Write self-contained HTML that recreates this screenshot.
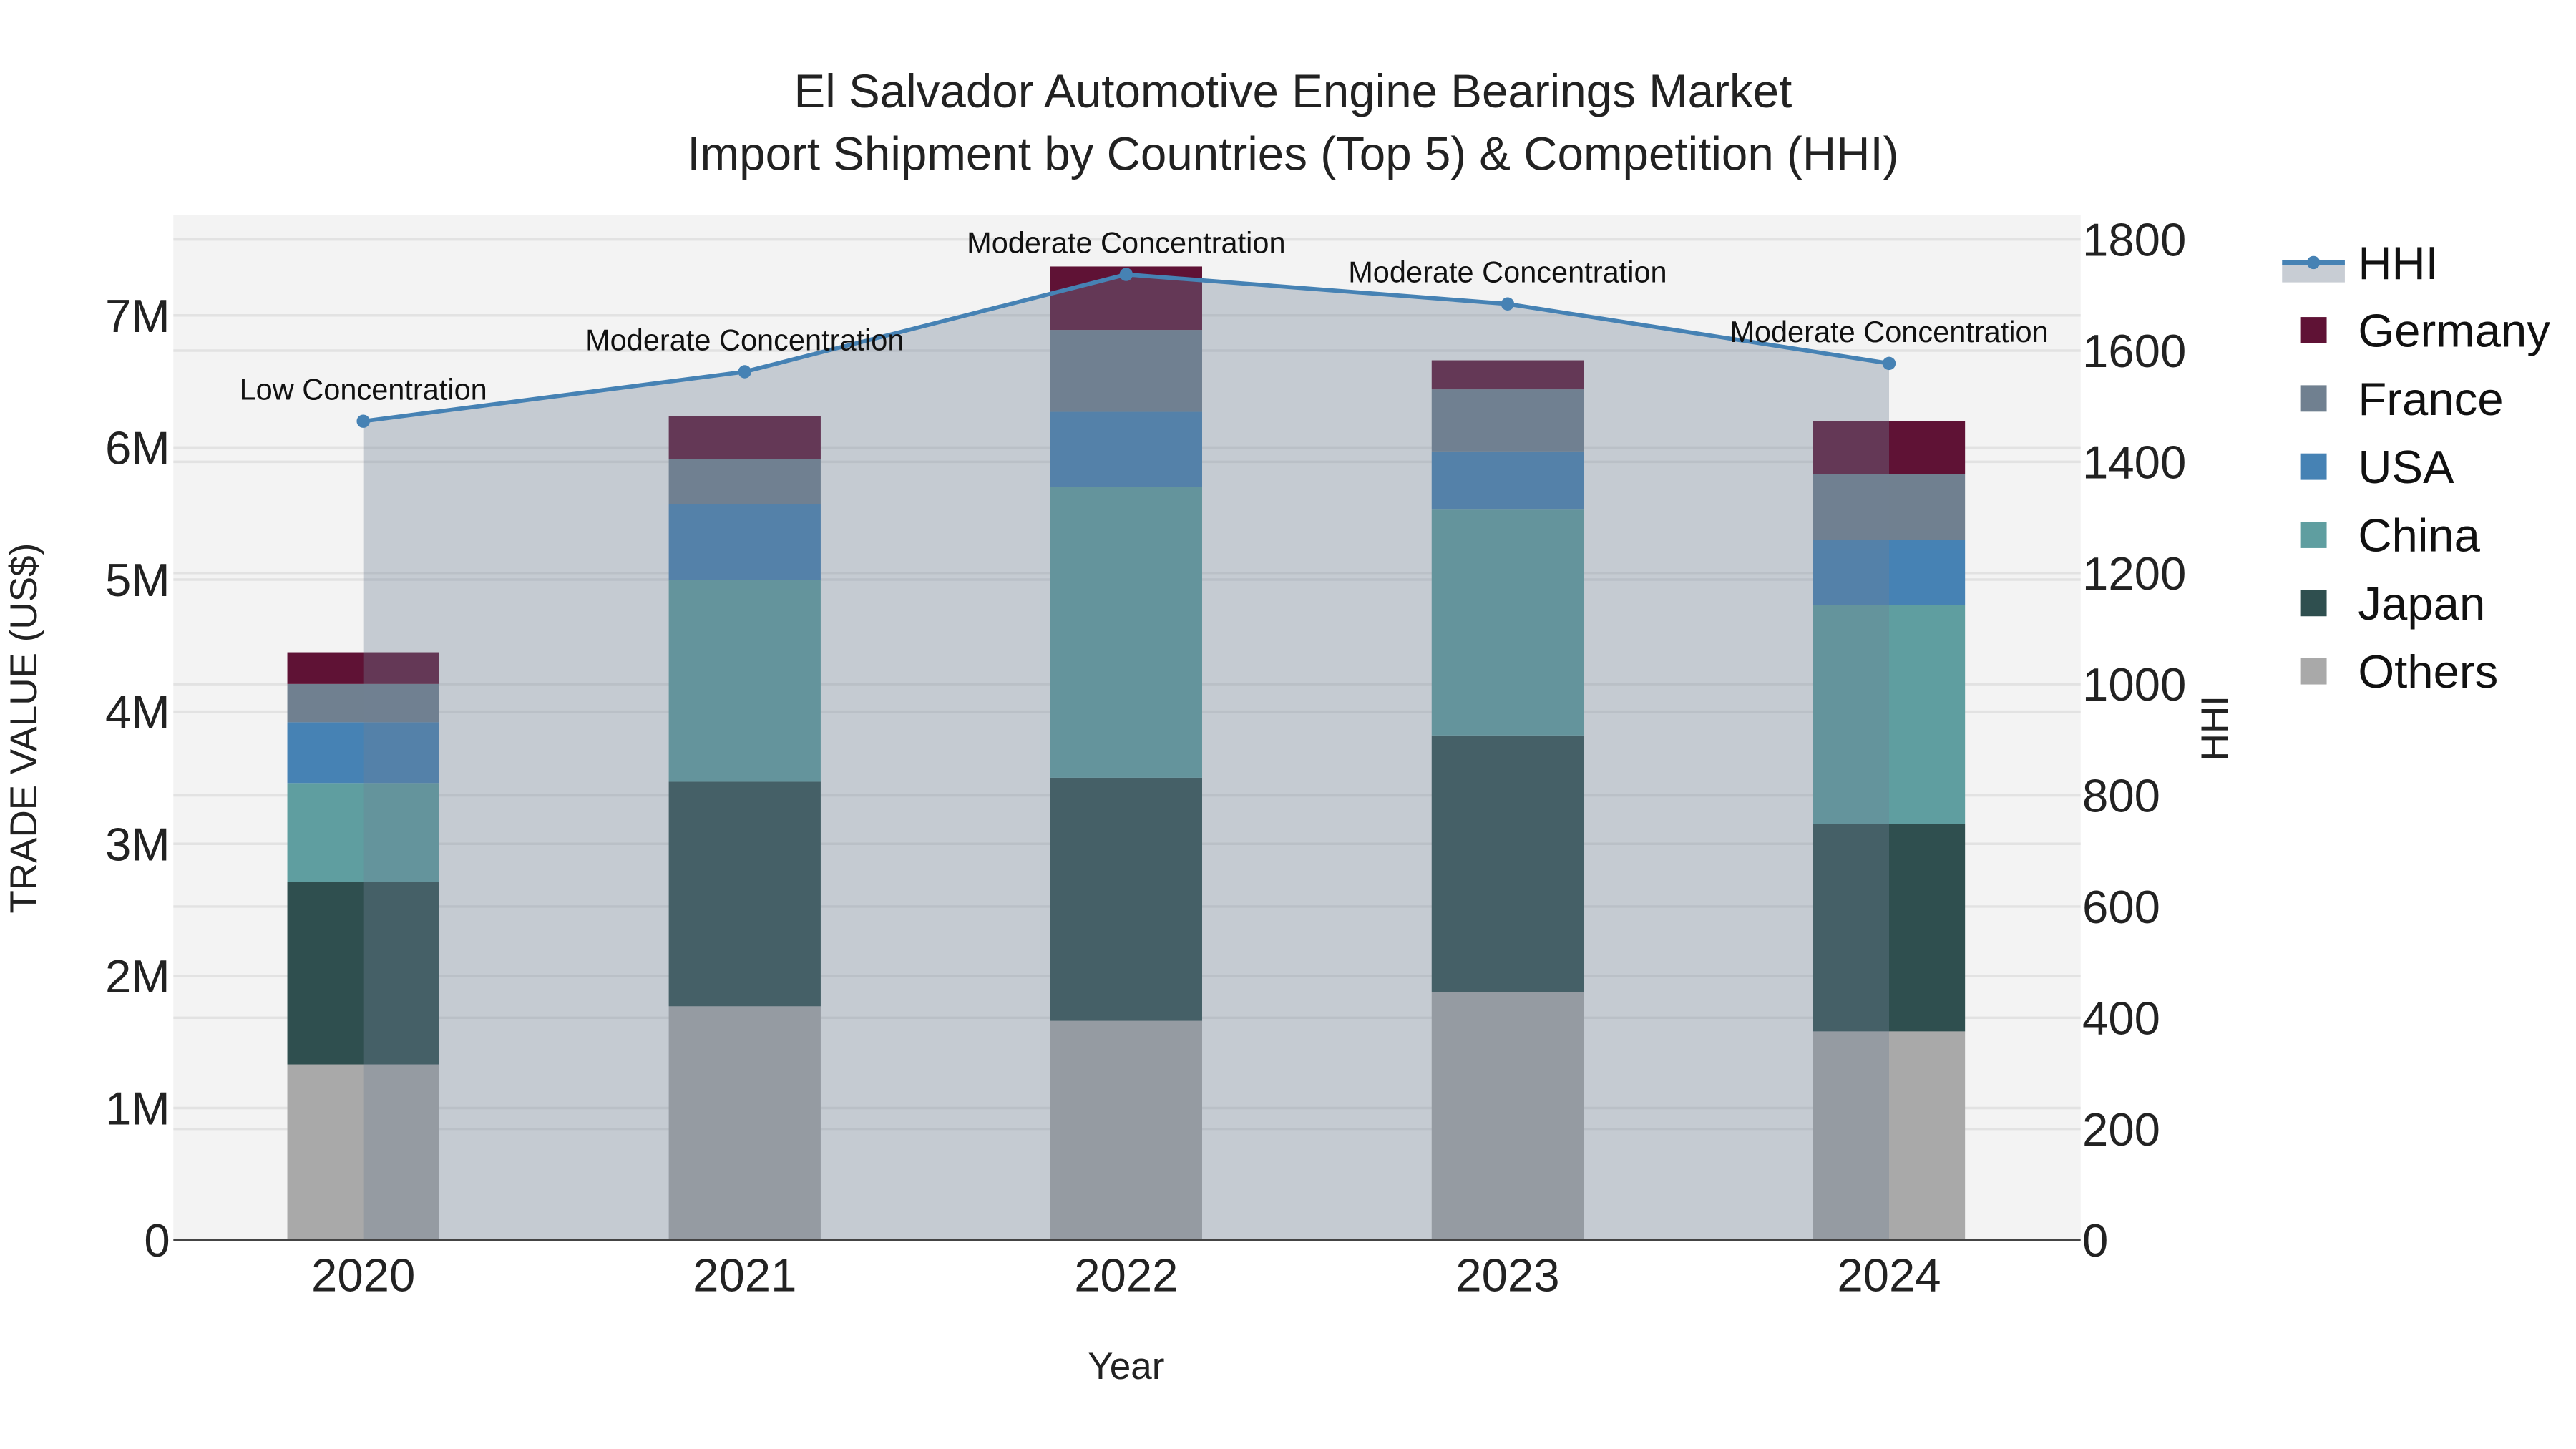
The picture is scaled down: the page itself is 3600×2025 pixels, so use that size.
<!DOCTYPE html>
<html><head><meta charset="utf-8"><style>
html,body{margin:0;padding:0;background:#fff}
svg{display:block;font-family:"Liberation Sans",sans-serif}
</style></head><body>
<svg id="chart" width="3600" height="2025" viewBox="0 0 1560 877.5" xmlns="http://www.w3.org/2000/svg">
<rect x="105" y="130" width="1155" height="621" fill="#f3f3f3"/>
<g id="grid"></g>
<g id="bars"></g>
<g id="hhi"></g>
<g id="axes"></g>
<text x="783" y="65" text-anchor="middle" font-size="28.4" fill="#222">El Salvador Automotive Engine Bearings Market</text>
<text x="783" y="103" text-anchor="middle" font-size="28.4" fill="#222">Import Shipment by Countries (Top 5) &amp; Competition (HHI)</text>
<text x="682" y="835" text-anchor="middle" font-size="23" fill="#222">Year</text>
<text transform="translate(22,441) rotate(-90)" text-anchor="middle" font-size="23" fill="#222">TRADE VALUE (US$)</text>
<text transform="translate(1349,441) rotate(-90)" text-anchor="middle" font-size="23" fill="#222">HHI</text>
<g id="legend"></g>
</svg>
<script>
const years = ["2020","2021","2022","2023","2024"];
const seriesNames = ["Others","Japan","China","USA","France","Germany"];
const others  = [1.33,1.77,1.66,1.88,1.58];
const japan   = [1.38,1.70,1.84,1.94,1.57];
const china   = [0.75,1.53,2.20,1.71,1.66];
const usa     = [0.46,0.57,0.57,0.44,0.49];
const france  = [0.29,0.34,0.62,0.47,0.50];
const germany = [0.24,0.33,0.48,0.22,0.40];
const hhi = [1473,1562,1737,1684,1577];
const hhiLabels = ["Low Concentration","Moderate Concentration","Moderate Concentration","Moderate Concentration","Moderate Concentration"];
const yTicks = [0,1,2,3,4,5,6,7];
const y2Ticks = [0,200,400,600,800,1000,1200,1400,1600,1800];
const colors = {Others:"#a9a9a9",Japan:"#2f4f4f",China:"#5f9ea0",USA:"#4682b4",France:"#708090",Germany:"#5f1235"};
const NS="http://www.w3.org/2000/svg";
function mk(tag,attrs,parent){const e=document.createElementNS(NS,tag);for(const k in attrs)e.setAttribute(k,attrs[k]);parent.appendChild(e);return e;}
const X=i=>220+231*i, Y=v=>751-80*v, Y2=v=>751-v*(606/1800);
const grid=document.getElementById('grid'), bars=document.getElementById('bars'), hg=document.getElementById('hhi'), ax=document.getElementById('axes'), lg=document.getElementById('legend');
yTicks.forEach(t=>{ if(t>0){const l=mk('line',{x1:105,x2:1260,y1:Y(t),y2:Y(t),stroke:'#e2e2e2','stroke-width':1.5},grid);

}
const tx=mk('text',{x:103,y:Y(t)+10,'text-anchor':'end','font-size':28.3,fill:'#222'},ax);tx.textContent=t===0?'0':t+'M';

});
y2Ticks.forEach(t=>{ if(t>0){const l=mk('line',{x1:105,x2:1260,y1:Y2(t),y2:Y2(t),stroke:'#e2e2e2','stroke-width':1.5},grid);

}
const tx=mk('text',{x:1261,y:Y2(t)+10,'font-size':28.3,fill:'#222'},ax);tx.textContent=t;

});
const data=[others,japan,china,usa,france,germany];
years.forEach((yr,i)=>{let base=0;data.forEach((arr,s)=>{const v=arr[i];
const r=mk('rect',{x:X(i)-46,y:Y(base+v),width:92,height:v*80,fill:colors[seriesNames[s]]},bars);


base+=v;});
const tx=mk('text',{x:X(i),y:782,'text-anchor':'middle','font-size':28.3,fill:'#222'},ax);tx.textContent=yr;

});
const axl=mk('line',{x1:105,x2:1260,y1:751,y2:751,stroke:'#444','stroke-width':1.5},ax);


let pts=hhi.map((v,i)=>X(i)+','+Y2(v)).join(' ');
const area=mk('polygon',{points:X(0)+',751 '+pts+' '+X(hhi.length-1)+',751',fill:'rgba(112,128,150,0.35)'},hg);


const line=mk('polyline',{points:pts,fill:'none',stroke:'#4682b4','stroke-width':2.5},hg);


hhi.forEach((v,i)=>{const c=mk('circle',{cx:X(i),cy:Y2(v),r:4,fill:'#4682b4'},hg);


const t=mk('text',{x:X(i),y:Y2(v)-13,'text-anchor':'middle','font-size':18,fill:'#111'},hg);t.textContent=hhiLabels[i];

});
const li=mk('rect',{x:1382,y:159,width:38,height:12,fill:'#c8cdd4'},lg);


const ll=mk('line',{x1:1382,x2:1420,y1:159,y2:159,stroke:'#4682b4','stroke-width':3},lg);


const lc=mk('circle',{cx:1401,cy:159,r:4,fill:'#4682b4'},lg);


const lt=mk('text',{x:1428,y:169,'font-size':28.3,fill:'#111'},lg);lt.textContent='HHI';


["Germany","France","USA","China","Japan","Others"].forEach((n,k)=>{const cy=200+41.3*k;
const sq=mk('rect',{x:1393,y:cy-8,width:16,height:16,fill:colors[n]},lg);


const t=mk('text',{x:1428,y:cy+10,'font-size':28.3,fill:'#111'},lg);t.textContent=n;

});
</script>
</body></html>
